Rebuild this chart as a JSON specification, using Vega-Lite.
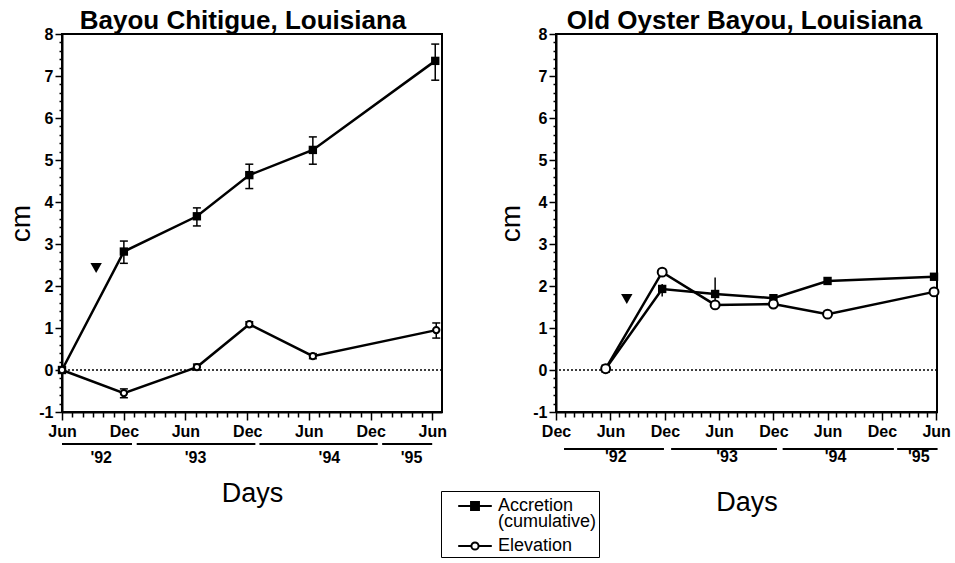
{
  "$schema": "https://vega.github.io/schema/vega-lite/v6.json",
  "padding": {"left": 6, "top": 7, "right": 5, "bottom": 0},
  "background": "white",
  "bounds": "flush",
  "spacing": 114,
  "datasets": {
    "points": [
      {"site": "Bayou Chitigue", "series": "Accretion", "date": "1992-06-01", "value": 0},
      {"site": "Bayou Chitigue", "series": "Accretion", "date": "1992-12-01", "value": 2.82, "lo": 2.54, "hi": 3.07},
      {"site": "Bayou Chitigue", "series": "Accretion", "date": "1993-07-05", "value": 3.66, "lo": 3.43, "hi": 3.86},
      {"site": "Bayou Chitigue", "series": "Accretion", "date": "1993-12-07", "value": 4.64, "lo": 4.32, "hi": 4.9},
      {"site": "Bayou Chitigue", "series": "Accretion", "date": "1994-06-13", "value": 5.24, "lo": 4.9, "hi": 5.55},
      {"site": "Bayou Chitigue", "series": "Accretion", "date": "1995-06-10", "value": 7.36, "lo": 6.9, "hi": 7.76},
      {"site": "Bayou Chitigue", "series": "Elevation", "date": "1992-06-01", "value": 0},
      {"site": "Bayou Chitigue", "series": "Elevation", "date": "1992-12-01", "value": -0.55, "lo": -0.66, "hi": -0.45},
      {"site": "Bayou Chitigue", "series": "Elevation", "date": "1993-07-05", "value": 0.07, "lo": 0.0, "hi": 0.14},
      {"site": "Bayou Chitigue", "series": "Elevation", "date": "1993-12-07", "value": 1.09, "lo": 1.03, "hi": 1.15},
      {"site": "Bayou Chitigue", "series": "Elevation", "date": "1994-06-13", "value": 0.33, "lo": 0.27, "hi": 0.39},
      {"site": "Bayou Chitigue", "series": "Elevation", "date": "1995-06-13", "value": 0.95, "lo": 0.76, "hi": 1.12},
      {"site": "Old Oyster Bayou", "series": "Accretion", "date": "1992-05-16", "value": 0.03},
      {"site": "Old Oyster Bayou", "series": "Accretion", "date": "1992-11-22", "value": 1.93, "lo": 1.75, "hi": 2.05},
      {"site": "Old Oyster Bayou", "series": "Accretion", "date": "1993-05-19", "value": 1.81, "lo": 1.45, "hi": 2.2},
      {"site": "Old Oyster Bayou", "series": "Accretion", "date": "1993-12-01", "value": 1.71},
      {"site": "Old Oyster Bayou", "series": "Accretion", "date": "1994-06-01", "value": 2.12},
      {"site": "Old Oyster Bayou", "series": "Accretion", "date": "1995-05-25", "value": 2.22},
      {"site": "Old Oyster Bayou", "series": "Elevation", "date": "1992-05-16", "value": 0.03},
      {"site": "Old Oyster Bayou", "series": "Elevation", "date": "1992-11-22", "value": 2.33},
      {"site": "Old Oyster Bayou", "series": "Elevation", "date": "1993-05-19", "value": 1.55},
      {"site": "Old Oyster Bayou", "series": "Elevation", "date": "1993-12-01", "value": 1.57},
      {"site": "Old Oyster Bayou", "series": "Elevation", "date": "1994-06-01", "value": 1.33},
      {"site": "Old Oyster Bayou", "series": "Elevation", "date": "1995-05-25", "value": 1.86}
    ],
    "markers": [
      {"site": "Bayou Chitigue", "date": "1992-09-10", "value": 2.43},
      {"site": "Old Oyster Bayou", "date": "1992-07-26", "value": 1.69}
    ],
    "zero": [{"value": 0}],
    "years": [
      {"site": "Bayou Chitigue", "label": "'92", "date": "1992-09-25", "start": "1992-06-01", "end": "1992-12-25"},
      {"site": "Bayou Chitigue", "label": "'93", "date": "1993-07-01", "start": "1993-01-08", "end": "1993-12-25"},
      {"site": "Bayou Chitigue", "label": "'94", "date": "1994-08-01", "start": "1994-01-06", "end": "1994-12-22"},
      {"site": "Bayou Chitigue", "label": "'95", "date": "1995-04-01", "start": "1995-01-04", "end": "1995-06-01"},
      {"site": "Old Oyster Bayou", "label": "'92", "date": "1992-06-19", "start": "1991-12-28", "end": "1992-11-28"},
      {"site": "Old Oyster Bayou", "label": "'93", "date": "1993-06-28", "start": "1992-12-22", "end": "1993-12-13"},
      {"site": "Old Oyster Bayou", "label": "'94", "date": "1994-06-28", "start": "1994-01-01", "end": "1995-01-10"},
      {"site": "Old Oyster Bayou", "label": "'95", "date": "1995-04-04", "start": "1995-01-21", "end": "1995-06-06"}
    ],
    "legend": [{"series": "Accretion"}, {"series": "Elevation"}]
  },
  "hconcat": [
    {
      "width": 380,
      "height": 378,
      "title": {"text": "Bayou Chitigue, Louisiana", "fontSize": 26, "fontWeight": "bold", "font": "Liberation Sans", "color": "black", "offset": -8, "dx": -9, "anchor": "middle"},
      "layer": [
        {
          "data": {"name": "zero"},
          "mark": {"type": "rule", "strokeDash": [2, 2], "strokeWidth": 1.5, "color": "black"},
          "encoding": {
            "y": {"field": "value", "type": "quantitative", "scale": {"domain": [-1, 8], "nice": false, "zero": false},
              "axis": {"title": "cm", "titleFontSize": 28, "titleFontWeight": "normal", "titlePadding": 3.5, "tickCount": 100,
                "values": [-1,-0.8,-0.6,-0.4,-0.2,0,0.2,0.4,0.6,0.8,1,1.2,1.4,1.6,1.8,2,2.2,2.4,2.6,2.8,3,3.2,3.4,3.6,3.8,4,4.2,4.4,4.6,4.8,5,5.2,5.4,5.6,5.8,6,6.2,6.4,6.6,6.8,7,7.2,7.4,7.6,7.8,8],
                "labelExpr": "datum.value % 1 == 0 ? '' + datum.value : ''",
                "tickSize": {"condition": {"test": "datum.value % 1 == 0", "value": 7}, "value": 3},
                "labelOverlap": false, "labelPadding": 2}}
          }
        },
        {
          "data": {"name": "years"},
          "transform": [{"filter": "datum.site == 'Bayou Chitigue'"}],
          "mark": {"type": "rule", "strokeWidth": 2, "color": "black", "clip": false},
          "encoding": {
            "x": {"field": "start", "type": "temporal", "scale": {"type": "utc", "domain": [{"year": 1992, "month": 6, "date": 1, "utc": true}, {"year": 1995, "month": 6, "date": 30, "utc": true}], "nice": false}},
            "x2": {"field": "end"},
            "y": {"datum": -1.76, "type": "quantitative", "scale": {"domain": [-1, 8], "nice": false, "zero": false}}
          }
        },
        {
          "data": {"name": "years"},
          "transform": [{"filter": "datum.site == 'Bayou Chitigue'"}],
          "mark": {"type": "text", "font": "Liberation Sans", "fontSize": 16, "fontWeight": "bold", "color": "black", "baseline": "middle", "align": "center"},
          "encoding": {
            "x": {"field": "date", "type": "temporal", "scale": {"type": "utc", "domain": [{"year": 1992, "month": 6, "date": 1, "utc": true}, {"year": 1995, "month": 6, "date": 30, "utc": true}], "nice": false}},
            "y": {"datum": -2.1, "type": "quantitative", "scale": {"domain": [-1, 8], "nice": false, "zero": false}},
            "text": {"field": "label"}
          }
        },
        {
          "data": {"name": "points"},
          "transform": [{"filter": "datum.site == 'Bayou Chitigue'"}],
          "mark": {"type": "line", "color": "black", "strokeWidth": 2.5},
          "encoding": {
            "x": {"field": "date", "type": "temporal",
              "scale": {"type": "utc", "domain": [{"year": 1992, "month": 6, "date": 1, "utc": true}, {"year": 1995, "month": 6, "date": 30, "utc": true}], "nice": false},
              "axis": {"title": "Days", "titleFontSize": 27, "titleFontWeight": "normal", "titlePadding": 41, "labelFlush": false, "labelOverlap": false,
                "tickCount": {"interval": "month", "step": 1},
                "labelExpr": "utcmonth(datum.value) % 6 == 5 ? utcFormat(datum.value, '%b') : ''",
                "tickSize": {"condition": {"test": "utcmonth(datum.value) % 6 == 5", "value": 8}, "value": 5},
                "labelPadding": 3}},
            "y": {"field": "value", "type": "quantitative", "scale": {"domain": [-1, 8], "nice": false, "zero": false}},
            "detail": {"field": "series"}
          }
        },
        {
          "data": {"name": "points"},
          "transform": [{"filter": "datum.site == 'Bayou Chitigue'"}],
          "mark": {"type": "rule", "color": "black", "strokeWidth": 1.5},
          "encoding": {
            "x": {"field": "date", "type": "temporal", "scale": {"type": "utc", "domain": [{"year": 1992, "month": 6, "date": 1, "utc": true}, {"year": 1995, "month": 6, "date": 30, "utc": true}], "nice": false}},
            "y": {"field": "lo", "type": "quantitative", "scale": {"domain": [-1, 8], "nice": false, "zero": false}},
            "y2": {"field": "hi"}
          }
        },
        {
          "data": {"name": "points"},
          "transform": [{"filter": "datum.site == 'Bayou Chitigue'"}],
          "mark": {"type": "tick", "orient": "horizontal", "color": "black", "thickness": 1.5, "size": 8, "opacity": 1},
          "encoding": {
            "x": {"field": "date", "type": "temporal", "scale": {"type": "utc", "domain": [{"year": 1992, "month": 6, "date": 1, "utc": true}, {"year": 1995, "month": 6, "date": 30, "utc": true}], "nice": false}},
            "y": {"field": "lo", "type": "quantitative", "scale": {"domain": [-1, 8], "nice": false, "zero": false}}
          }
        },
        {
          "data": {"name": "points"},
          "transform": [{"filter": "datum.site == 'Bayou Chitigue'"}],
          "mark": {"type": "tick", "orient": "horizontal", "color": "black", "thickness": 1.5, "size": 8, "opacity": 1},
          "encoding": {
            "x": {"field": "date", "type": "temporal", "scale": {"type": "utc", "domain": [{"year": 1992, "month": 6, "date": 1, "utc": true}, {"year": 1995, "month": 6, "date": 30, "utc": true}], "nice": false}},
            "y": {"field": "hi", "type": "quantitative", "scale": {"domain": [-1, 8], "nice": false, "zero": false}}
          }
        },
        {
          "data": {"name": "points"},
          "transform": [{"filter": "datum.site == 'Bayou Chitigue' && datum.series == 'Accretion'"}],
          "mark": {"type": "point", "shape": "square", "filled": true, "color": "black", "size": 70, "opacity": 1},
          "encoding": {
            "x": {"field": "date", "type": "temporal", "scale": {"type": "utc", "domain": [{"year": 1992, "month": 6, "date": 1, "utc": true}, {"year": 1995, "month": 6, "date": 30, "utc": true}], "nice": false}},
            "y": {"field": "value", "type": "quantitative", "scale": {"domain": [-1, 8], "nice": false, "zero": false}}
          }
        },
        {
          "data": {"name": "points"},
          "transform": [{"filter": "datum.site == 'Bayou Chitigue' && datum.series == 'Elevation'"}],
          "mark": {"type": "point", "shape": "circle", "filled": false, "fill": "white", "stroke": "black", "strokeWidth": 2, "size": 40, "opacity": 1, "fillOpacity": 1},
          "encoding": {
            "x": {"field": "date", "type": "temporal", "scale": {"type": "utc", "domain": [{"year": 1992, "month": 6, "date": 1, "utc": true}, {"year": 1995, "month": 6, "date": 30, "utc": true}], "nice": false}},
            "y": {"field": "value", "type": "quantitative", "scale": {"domain": [-1, 8], "nice": false, "zero": false}}
          }
        },
        {
          "data": {"name": "markers"},
          "transform": [{"filter": "datum.site == 'Bayou Chitigue'"}],
          "mark": {"type": "point", "shape": "triangle-down", "filled": true, "color": "black", "size": 130, "opacity": 1},
          "encoding": {
            "x": {"field": "date", "type": "temporal", "scale": {"type": "utc", "domain": [{"year": 1992, "month": 6, "date": 1, "utc": true}, {"year": 1995, "month": 6, "date": 30, "utc": true}], "nice": false}},
            "y": {"field": "value", "type": "quantitative", "scale": {"domain": [-1, 8], "nice": false, "zero": false}}
          }
        },
        {
          "data": {"name": "legend"},
          "mark": {"type": "point", "opacity": 0},
          "encoding": {
            "shape": {"field": "series", "type": "nominal",
              "scale": {"domain": ["Accretion", "Elevation"], "range": [
                "M-1.4,0H1.4M-0.33,-0.33H0.33V0.33H-0.33ZM-0.33,-0.2H0.33M-0.33,-0.07H0.33M-0.33,0.07H0.33M-0.33,0.2H0.33",
                "M-1.4,0H-0.3M0.3,0H1.4M-0.3,0A0.3,0.3 0 1,0 0.3,0A0.3,0.3 0 1,0 -0.3,0Z"]},
              "legend": {"title": null, "orient": "none", "legendX": 379, "legendY": 457, "symbolSize": 576, "symbolStrokeWidth": 2, "symbolStrokeColor": "black", "symbolFillColor": "transparent", "symbolOpacity": 1,
                "labelFont": "Liberation Sans", "labelFontSize": 18, "labelColor": "black", "labelLimit": 300,
                "labelExpr": "datum.value == 'Accretion' ? ['Accretion', '(cumulative)'] : datum.value",
                "strokeColor": "black", "padding": 2, "rowPadding": 2, "symbolOffset": 19, "labelOffset": 10}}
          }
        }
      ]
    },
    {
      "width": 381,
      "height": 378,
      "title": {"text": "Old Oyster Bayou, Louisiana", "fontSize": 26, "fontWeight": "bold", "font": "Liberation Sans", "color": "black", "offset": -8, "dx": -2, "anchor": "middle"},
      "layer": [
        {
          "data": {"name": "zero"},
          "mark": {"type": "rule", "strokeDash": [2, 2], "strokeWidth": 1.5, "color": "black"},
          "encoding": {
            "y": {"field": "value", "type": "quantitative", "scale": {"domain": [-1, 8], "nice": false, "zero": false},
              "axis": {"title": "cm", "titleFontSize": 28, "titleFontWeight": "normal", "titlePadding": 7.5, "tickCount": 100,
                "values": [-1,-0.8,-0.6,-0.4,-0.2,0,0.2,0.4,0.6,0.8,1,1.2,1.4,1.6,1.8,2,2.2,2.4,2.6,2.8,3,3.2,3.4,3.6,3.8,4,4.2,4.4,4.6,4.8,5,5.2,5.4,5.6,5.8,6,6.2,6.4,6.6,6.8,7,7.2,7.4,7.6,7.8,8],
                "labelExpr": "datum.value % 1 == 0 ? '' + datum.value : ''",
                "tickSize": {"condition": {"test": "datum.value % 1 == 0", "value": 7}, "value": 3},
                "labelOverlap": false, "labelPadding": 2}}
          }
        },
        {
          "data": {"name": "years"},
          "transform": [{"filter": "datum.site == 'Old Oyster Bayou'"}],
          "mark": {"type": "rule", "strokeWidth": 2, "color": "black", "clip": false},
          "encoding": {
            "x": {"field": "start", "type": "temporal", "scale": {"type": "utc", "domain": [{"year": 1991, "month": 12, "date": 1, "utc": true}, {"year": 1995, "month": 6, "date": 4, "utc": true}], "nice": false}},
            "x2": {"field": "end"},
            "y": {"datum": -1.88, "type": "quantitative", "scale": {"domain": [-1, 8], "nice": false, "zero": false}}
          }
        },
        {
          "data": {"name": "years"},
          "transform": [{"filter": "datum.site == 'Old Oyster Bayou'"}],
          "mark": {"type": "text", "font": "Liberation Sans", "fontSize": 16, "fontWeight": "bold", "color": "black", "baseline": "middle", "align": "center"},
          "encoding": {
            "x": {"field": "date", "type": "temporal", "scale": {"type": "utc", "domain": [{"year": 1991, "month": 12, "date": 1, "utc": true}, {"year": 1995, "month": 6, "date": 4, "utc": true}], "nice": false}},
            "y": {"datum": -2.06, "type": "quantitative", "scale": {"domain": [-1, 8], "nice": false, "zero": false}},
            "text": {"field": "label"}
          }
        },
        {
          "data": {"name": "points"},
          "transform": [{"filter": "datum.site == 'Old Oyster Bayou'"}],
          "mark": {"type": "line", "color": "black", "strokeWidth": 2.5},
          "encoding": {
            "x": {"field": "date", "type": "temporal",
              "scale": {"type": "utc", "domain": [{"year": 1991, "month": 12, "date": 1, "utc": true}, {"year": 1995, "month": 6, "date": 4, "utc": true}], "nice": false},
              "axis": {"title": "Days", "titleFontSize": 27, "titleFontWeight": "normal", "titlePadding": 50, "labelFlush": false, "labelOverlap": false,
                "tickCount": {"interval": "month", "step": 1},
                "labelExpr": "utcmonth(datum.value) % 6 == 5 ? utcFormat(datum.value, '%b') : ''",
                "tickSize": {"condition": {"test": "utcmonth(datum.value) % 6 == 5", "value": 8}, "value": 5},
                "labelPadding": 3}},
            "y": {"field": "value", "type": "quantitative", "scale": {"domain": [-1, 8], "nice": false, "zero": false}},
            "detail": {"field": "series"}
          }
        },
        {
          "data": {"name": "points"},
          "transform": [{"filter": "datum.site == 'Old Oyster Bayou'"}],
          "mark": {"type": "rule", "color": "black", "strokeWidth": 1.5},
          "encoding": {
            "x": {"field": "date", "type": "temporal", "scale": {"type": "utc", "domain": [{"year": 1991, "month": 12, "date": 1, "utc": true}, {"year": 1995, "month": 6, "date": 4, "utc": true}], "nice": false}},
            "y": {"field": "lo", "type": "quantitative", "scale": {"domain": [-1, 8], "nice": false, "zero": false}},
            "y2": {"field": "hi"}
          }
        },
        {
          "data": {"name": "points"},
          "transform": [{"filter": "datum.site == 'Old Oyster Bayou' && datum.series == 'Accretion'"}],
          "mark": {"type": "point", "shape": "square", "filled": true, "color": "black", "size": 70, "opacity": 1},
          "encoding": {
            "x": {"field": "date", "type": "temporal", "scale": {"type": "utc", "domain": [{"year": 1991, "month": 12, "date": 1, "utc": true}, {"year": 1995, "month": 6, "date": 4, "utc": true}], "nice": false}},
            "y": {"field": "value", "type": "quantitative", "scale": {"domain": [-1, 8], "nice": false, "zero": false}}
          }
        },
        {
          "data": {"name": "points"},
          "transform": [{"filter": "datum.site == 'Old Oyster Bayou' && datum.series == 'Elevation'"}],
          "mark": {"type": "point", "shape": "circle", "filled": false, "fill": "white", "stroke": "black", "strokeWidth": 2, "size": 80, "opacity": 1, "fillOpacity": 1},
          "encoding": {
            "x": {"field": "date", "type": "temporal", "scale": {"type": "utc", "domain": [{"year": 1991, "month": 12, "date": 1, "utc": true}, {"year": 1995, "month": 6, "date": 4, "utc": true}], "nice": false}},
            "y": {"field": "value", "type": "quantitative", "scale": {"domain": [-1, 8], "nice": false, "zero": false}}
          }
        },
        {
          "data": {"name": "markers"},
          "transform": [{"filter": "datum.site == 'Old Oyster Bayou'"}],
          "mark": {"type": "point", "shape": "triangle-down", "filled": true, "color": "black", "size": 130, "opacity": 1},
          "encoding": {
            "x": {"field": "date", "type": "temporal", "scale": {"type": "utc", "domain": [{"year": 1991, "month": 12, "date": 1, "utc": true}, {"year": 1995, "month": 6, "date": 4, "utc": true}], "nice": false}},
            "y": {"field": "value", "type": "quantitative", "scale": {"domain": [-1, 8], "nice": false, "zero": false}}
          }
        }
      ]
    }
  ],
  "config": {
    "font": "Liberation Sans",
    "view": {"stroke": "black", "strokeWidth": 2},
    "style": {"guide-label": {"lineHeight": 16}},
    "axis": {"domainColor": "black", "domainWidth": 2, "tickColor": "black", "tickWidth": 1.5, "labelColor": "black", "labelFont": "Liberation Sans", "labelFontWeight": "bold", "labelFontSize": 16, "titleColor": "black", "titleFont": "Liberation Sans", "grid": false, "labelOverlap": false}
  }
}
